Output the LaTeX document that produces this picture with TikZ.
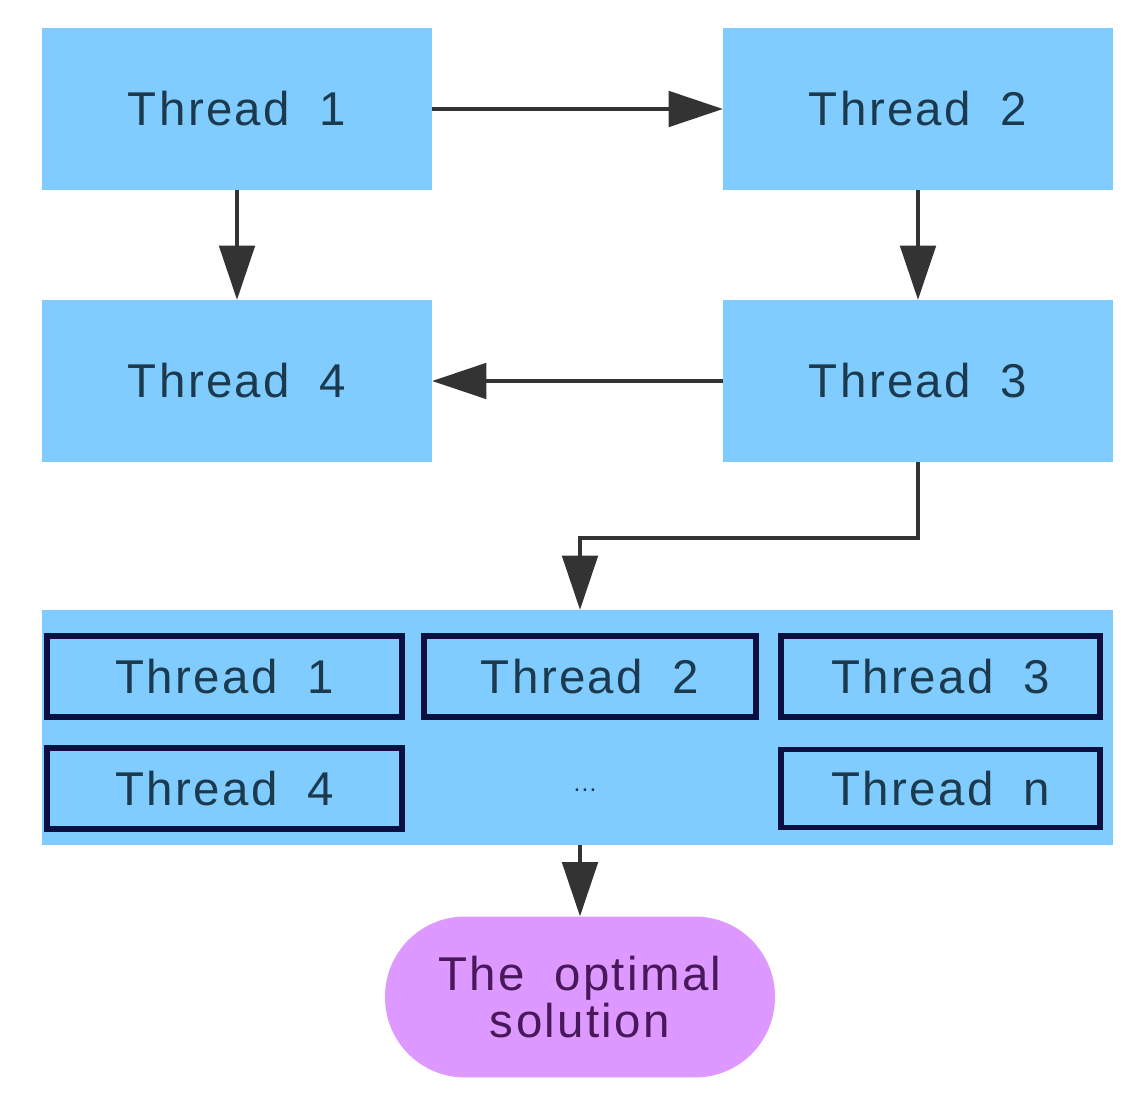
\documentclass[tikz,border=0pt]{standalone}
\usepackage{fontspec}
\setmainfont{Liberation Sans}[LetterSpace=5,WordSpace=1.9]
\usetikzlibrary{arrows.meta}
\definecolor{boxblue}{RGB}{128,204,255}
\definecolor{txtblue}{RGB}{28,58,78}
\definecolor{navy}{RGB}{10,16,64}
\definecolor{arrowgray}{RGB}{51,51,51}
\definecolor{pill}{RGB}{221,153,255}
\definecolor{pilltxt}{RGB}{72,24,90}
\tikzset{
  outer/.style={fill=boxblue, draw=none, inner sep=0pt, outer sep=0pt,
    minimum width=7.8cm, minimum height=3.24cm, text=txtblue, font=\fontsize{27}{32}\selectfont},
  inner/.style={fill=boxblue, draw=navy, line width=3.2pt, inner sep=0pt, outer sep=0pt,
    minimum height=1.62cm, text=txtblue, font=\fontsize{27}{32}\selectfont},
  conn/.style={draw=arrowgray, line width=2.8pt, -{Triangle[length=31pt,width=20pt]}},
}
\begin{document}
\begin{tikzpicture}[x=0.02cm,y=-0.02cm]
\useasboundingbox (0,0) rectangle (1140,1104);
\node[outer] (t1) at (237,109) {Thread 1};
\node[outer] (t2) at (918,109) {Thread 2};
\node[outer] (t4) at (237,381) {Thread 4};
\node[outer] (t3) at (918,381) {Thread 3};
\node[fill=boxblue, inner sep=0pt, outer sep=0pt, minimum width=21.42cm, minimum height=4.7cm] (big) at (577.5,727.5) {};
\node[inner, minimum width=7.1cm] (i1) at (224.5,676.5) {Thread 1};
\node[inner, minimum width=6.64cm] (i2) at (590,676.5) {Thread 2};
\node[inner, minimum width=6.38cm] (i3) at (940.5,676.5) {Thread 3};
\node[inner, minimum width=7.1cm] (i4) at (224.5,788.5) {Thread 4};
\node[text=txtblue, font=\fontsize{14}{16}\selectfont, inner sep=0pt] (dots) at (585,790) {...};
\node[inner, minimum width=6.38cm, minimum height=1.56cm] (in) at (940.5,788.5) {Thread n};
\node[fill=pill, draw=none, rounded corners=1.6cm, inner sep=0pt, outer sep=0pt,
  minimum width=7.8cm, minimum height=3.22cm, align=center, text=pilltxt,
  font=\fontsize{27}{27.2}\selectfont] (sol) at (580,997) {The optimal\\solution};
\coordinate (m) at (580,538);
\draw[conn] (t1.east) -- (t2.west);
\draw[conn] (t1.south) -- (t4.north);
\draw[conn] (t2.south) -- (t3.north);
\draw[conn] (t3.west) -- (t4.east);
\draw[conn] (t3.south) -- (t3.south |- m) -- (m) -- (m |- big.north);
\draw[conn] (big.south -| sol.north) -- (sol.north);
\end{tikzpicture}
\end{document}
